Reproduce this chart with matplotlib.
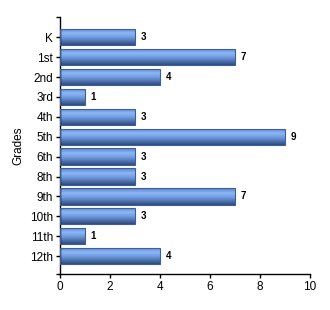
import matplotlib
matplotlib.use('Agg')
import matplotlib.pyplot as plt
import numpy as np
from matplotlib.colors import LinearSegmentedColormap

grades = ['K', '1st', '2nd', '3rd', '4th', '5th', '6th', '8th', '9th', '10th', '11th', '12th']
counts = [3, 7, 4, 1, 3, 9, 3, 3, 7, 3, 1, 4]

plt.rcParams['font.family'] = ['Liberation Sans', 'DejaVu Sans']

fig = plt.figure(figsize=(3.3, 3.1), dpi=100)
ax = fig.add_axes([60/330, 1-274/310, 250/330, 257/310])

# vertical gradient like the excel bars
cmap = LinearSegmentedColormap.from_list('bar', [
    (0.0, '#5a82c8'), (0.3, '#8cb8f8'), (0.55, '#6f9be0'), (1.0, '#2f4c7e')])
grad = np.linspace(0, 1, 64).reshape(-1, 1)

pos = np.arange(len(grades))
h = 0.82
bars = ax.barh(pos, counts, height=h, facecolor='none', edgecolor='#3d5f93', linewidth=0.8, zorder=3)
for b, v, y in zip(bars, counts, pos):
    im = ax.imshow(grad, cmap=cmap, aspect='auto', extent=[0, v, y + h/2, y - h/2],
                   origin='upper', zorder=2, interpolation='bilinear')
    im.set_clip_path(b)
    ax.text(v + 0.22, y, str(v), va='center', ha='left', fontsize=7, fontweight='bold')

ax.set_xlim(0, 10)
ax.set_ylim(11.9, -1.02)
ax.set_xticks([0, 2, 4, 6, 8, 10])
ax.set_yticks(list(pos) + [-1.02, 11.9])
ax.set_yticklabels(grades + ['', ''])
ax.tick_params(axis='both', labelsize=8.5, length=3, width=1, direction='out', pad=2)
ax.spines['top'].set_visible(False)
ax.spines['right'].set_visible(False)
ax.spines['left'].set_linewidth(1)
ax.spines['bottom'].set_linewidth(1)
ax.set_ylabel('Grades', fontsize=8.5, labelpad=4)

fig.savefig('out.png', dpi=100)
